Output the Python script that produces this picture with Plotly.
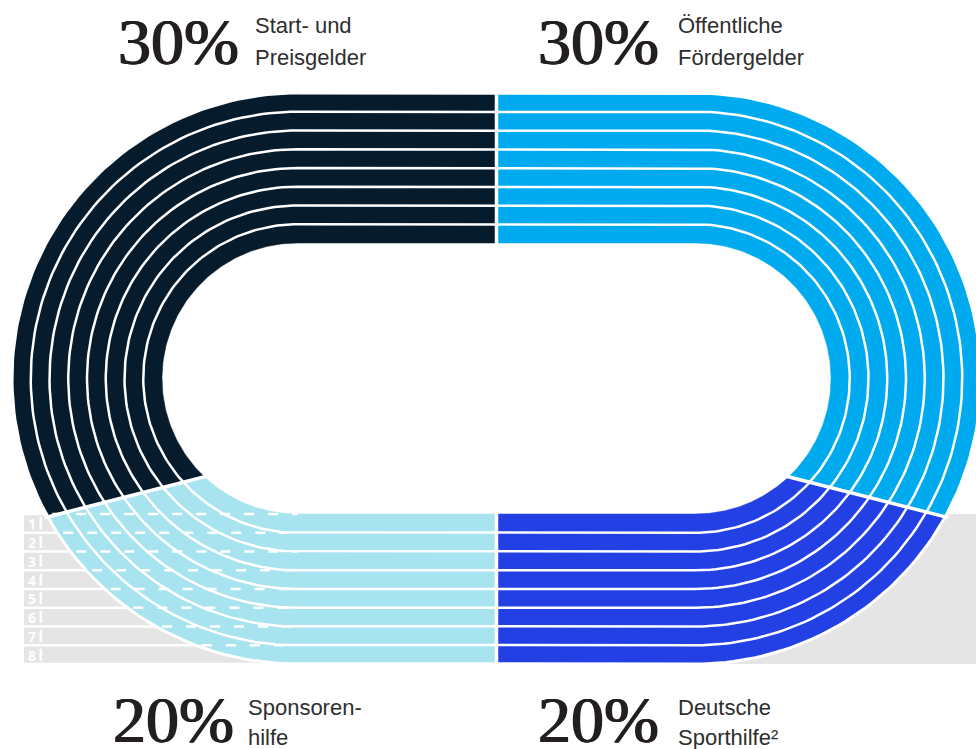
import numpy as np
import plotly.graph_objects as go

# ---------------- data ----------------
segment_names = ["Start- und Preisgelder", "Öffentliche Fördergelder",
                 "Sponsorenhilfe", "Deutsche Sporthilfe"]
shares = [30, 30, 20, 20]          # percent: top-left, top-right, bottom-left, bottom-right
label_line1 = ["Start- und", "Öffentliche", "Sponsoren-", "Deutsche"]
label_line2 = ["Preisgelder", "Fördergelder", "hilfe", "Sporthilfe²"]
lane_labels = ["1", "2", "3", "4", "5", "6", "7", "8"]

# ---------------- style / geometry ----------------
W, H = 976, 749
colors = ["#061C2C", "#00AAEF", "#A8E4EF", "#2340E4"]
GRAY = "#E5E5E5"
XMID = 496.5
CY = 378.5
R_OUT = 285.5
R_IN = 135.5
N = len(lane_labels)
LW = (R_OUT - R_IN) / N
HS = 199.0
CXL, CXR = XMID - HS, XMID + HS
SKEW = np.deg2rad(18.5)


def split_angle(p_top, p_side_total):
    band = R_OUT - R_IN
    half_total = 2 * HS * band + np.pi * (R_OUT**2 - R_IN**2) / 2
    need = p_top / p_side_total * half_total
    fixed = HS * band + np.pi * (R_OUT**2 - R_IN**2) / 4
    return (need - fixed) / (0.5 * (R_OUT**2 - R_IN**2))


phi_L = split_angle(shares[0], shares[0] + shares[2])
phi_R = split_angle(shares[1], shares[1] + shares[3])


def arc(side, r, b0, b1, n=120):
    b = np.linspace(b0, b1, n)
    if side == "L":
        return list(CXL - r * np.cos(b)), list(CY + r * np.sin(b))
    return list(CXR + r * np.cos(b)), list(CY + r * np.sin(b))


fig = go.Figure()

# gray lane rows (left) and gray block (right)
gap = 2.6
for k in range(N):
    y0 = CY + R_IN + k * LW + gap / 2
    y1 = CY + R_IN + (k + 1) * LW - gap / 2
    fig.add_trace(go.Scatter(x=[24, CXL, CXL, 24, 24], y=[y0, y0, y1, y1, y0],
                             fill="toself", fillcolor=GRAY, mode="lines",
                             line=dict(width=0), hoverinfo="skip"))
fig.add_trace(go.Scatter(x=[CXR, W + 10, W + 10, CXR, CXR],
                         y=[CY + R_IN, CY + R_IN, CY + R_OUT, CY + R_OUT, CY + R_IN],
                         fill="toself", fillcolor=GRAY, mode="lines",
                         line=dict(width=0), hoverinfo="skip"))


def seg_top(side, phi):
    ox, oy = arc(side, R_OUT, -np.pi / 2, phi)
    ix, iy = arc(side, R_IN, phi + SKEW, -np.pi / 2)
    cx = CXL if side == "L" else CXR
    xs = [XMID, cx] + ox + ix + [cx, XMID]
    ys = [CY - R_OUT, CY - R_OUT] + oy + iy + [CY - R_IN, CY - R_IN]
    return xs, ys


def seg_bot(side, phi):
    ox, oy = arc(side, R_OUT, phi, np.pi / 2)
    ix, iy = arc(side, R_IN, np.pi / 2, phi + SKEW)
    xs = ox + [XMID, XMID] + ix
    ys = oy + [CY + R_OUT, CY + R_IN] + iy
    return xs, ys


polys = [seg_top("L", phi_L), seg_top("R", phi_R), seg_bot("L", phi_L), seg_bot("R", phi_R)]
for i, (xs, ys) in enumerate(polys):
    fig.add_trace(go.Scatter(x=xs + [xs[0]], y=ys + [ys[0]], fill="toself",
                             fillcolor=colors[i], mode="lines",
                             line=dict(width=0.5, color=colors[i]),
                             name=segment_names[i], hoverinfo="name"))

# dashed straight-lane extensions in the bottom-left curve
for k in range(N):
    y = CY + R_IN + k * LW
    xe = CXL - np.sqrt(R_OUT**2 - (y - CY) ** 2) + 6
    fig.add_trace(go.Scatter(x=[xe, CXL], y=[y, y], mode="lines",
                             line=dict(color="white", width=2.4, dash="10px,14px"),
                             hoverinfo="skip"))


def stadium(r):
    xs = [CXL, CXR]
    ys = [CY - r, CY - r]
    ax, ay = arc("R", r, -np.pi / 2, np.pi / 2)
    xs += ax
    ys += ay
    xs += [CXR, CXL]
    ys += [CY + r, CY + r]
    bx, by = arc("L", r, np.pi / 2, -np.pi / 2)
    xs += bx
    ys += by
    return xs, ys


for k in range(1, N + 1):
    xs, ys = stadium(R_IN + k * LW)
    fig.add_trace(go.Scatter(x=xs, y=ys, mode="lines",
                             line=dict(color="white", width=2.5 if k < N else 3),
                             hoverinfo="skip"))

# segment dividers
divs = [([XMID, XMID], [CY - R_OUT - 2, CY - R_IN + 2]),
        ([XMID, XMID], [CY + R_IN - 2, CY + R_OUT + 2])]
lx0, ly0 = arc("L", R_OUT + 3, phi_L, phi_L, 1)
lx1, ly1 = arc("L", R_IN - 3, phi_L + SKEW, phi_L + SKEW, 1)
divs.append((lx0 + lx1, ly0 + ly1))
rx0, ry0 = arc("R", R_OUT + 3, phi_R, phi_R, 1)
rx1, ry1 = arc("R", R_IN - 3, phi_R + SKEW, phi_R + SKEW, 1)
divs.append((rx0 + rx1, ry0 + ry1))
for xs, ys in divs:
    fig.add_trace(go.Scatter(x=xs, y=ys, mode="lines",
                             line=dict(color="white", width=3.5), hoverinfo="skip"))

# lane numbers
ann = []
for k, lab in enumerate(lane_labels):
    yc = CY + R_IN + (k + 0.5) * LW
    ann.append(dict(x=31.5, y=yc + 0.5, text="<b>" + lab + "</b>", showarrow=False,
                    xanchor="center", yanchor="middle",
                    font=dict(family="Open Sans", size=14, color="white")))
    fig.add_trace(go.Scatter(x=[40.8, 40.8], y=[yc - 6, yc + 6], mode="lines",
                             line=dict(color="white", width=2.5), hoverinfo="skip"))

# percentage labels
TXT = "#231F20"
pct_pos = [(116, 41.5), (536, 41.5), (111, 719), (536, 719)]
lab_x = [253, 676, 246, 676]
lab_y = [(25.5, 57), (25.5, 57), (707, 737.5), (707, 737.5)]
for i in range(4):
    ann.append(dict(x=pct_pos[i][0], y=pct_pos[i][1], text=f"{shares[i]}%",
                    showarrow=False, xanchor="left", yanchor="middle",
                    font=dict(family="Liberation Serif", size=66, color=TXT,
                              shadow=f"0.8px 0px 0px {TXT}, -0.8px 0px 0px {TXT}")))
    ann.append(dict(x=lab_x[i], y=lab_y[i][0], text=label_line1[i], showarrow=False,
                    xanchor="left", yanchor="middle",
                    font=dict(family="Liberation Sans", size=22, color="#2E2E2E")))
    ann.append(dict(x=lab_x[i], y=lab_y[i][1], text=label_line2[i], showarrow=False,
                    xanchor="left", yanchor="middle",
                    font=dict(family="Liberation Sans", size=22, color="#2E2E2E")))

fig.update_layout(
    width=W, height=H, margin=dict(l=0, r=0, t=0, b=0),
    paper_bgcolor="white", plot_bgcolor="white", showlegend=False,
    xaxis=dict(range=[0, W], visible=False, fixedrange=True),
    yaxis=dict(range=[H, 0], visible=False, fixedrange=True),
    annotations=ann,
)
fig.write_html("out.html")
